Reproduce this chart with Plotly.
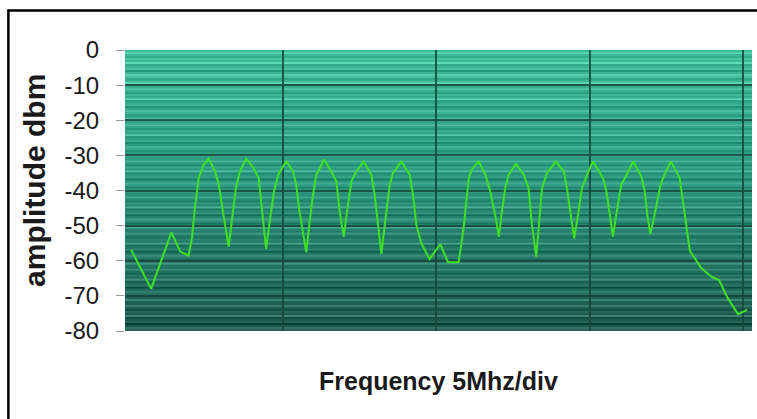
import plotly.graph_objects as go

# Frequency offset (MHz, 5 MHz per division) and amplitude (dBm)
freq_mhz = [
    0.05, 0.70, 1.36, 1.65, 1.92, 2.03, 2.14, 2.25, 2.41, 2.58,
    2.78, 2.91, 3.04, 3.23, 3.34, 3.47, 3.60, 3.80,
    4.04, 4.21, 4.32, 4.45, 4.58, 4.71, 4.87, 5.11,
    5.33, 5.43, 5.54, 5.76, 5.87, 5.98, 6.09, 6.34,
    6.58, 6.74, 6.85, 6.98, 7.12, 7.23, 7.39, 7.63,
    7.88, 7.99, 8.10, 8.21, 8.32, 8.48, 8.59, 8.86,
    9.13, 9.24, 9.35, 9.51, 9.78, 10.13, 10.38, 10.73,
    10.89, 11.06, 11.16, 11.38,
    11.60, 11.76, 11.92, 12.04, 12.14, 12.25, 12.36, 12.60,
    12.85, 13.01, 13.12, 13.26, 13.34, 13.45, 13.61, 13.90,
    14.16, 14.26, 14.37, 14.50, 14.64, 14.75, 14.92, 15.11,
    15.44, 15.55, 15.66, 15.76, 15.87, 16.03, 16.15, 16.42,
    16.69, 16.80, 16.88, 16.98, 17.12, 17.29, 17.39, 17.65,
    17.94, 18.10, 18.27, 18.43, 18.64, 18.97, 19.22, 19.51, 19.84, 20.14,
]
amplitude_dbm = [
    -56.9, -68.0, -51.9, -57.4, -58.5, -53.5, -44.0, -36.5, -32.7, -30.9,
    -34.5, -38.5, -46.0, -56.0, -48.0, -39.0, -34.5, -30.9,
    -33.6, -36.5, -46.0, -56.6, -48.0, -40.0, -35.0, -31.7,
    -34.6, -38.4, -46.0, -57.6, -48.8, -41.2, -35.5, -31.2,
    -34.6, -37.4, -46.0, -53.1, -44.0, -37.4, -34.6, -31.7,
    -35.5, -41.2, -49.8, -58.1, -49.8, -38.4, -35.0, -31.7,
    -35.5, -41.2, -49.8, -55.0, -59.5, -55.3, -60.4, -60.4,
    -50.7, -36.5, -34.0, -31.7,
    -35.5, -40.3, -46.9, -53.1, -46.0, -39.3, -35.5, -32.4,
    -35.5, -39.3, -49.8, -58.8, -50.7, -39.3, -35.0, -31.7,
    -34.6, -39.3, -46.0, -53.6, -46.0, -39.3, -35.5, -31.7,
    -36.5, -40.3, -46.9, -53.1, -46.9, -38.4, -36.5, -31.7,
    -36.0, -40.3, -46.9, -52.4, -46.9, -39.3, -36.5, -31.7,
    -36.5, -46.0, -57.2, -59.3, -62.1, -64.5, -65.5, -70.7, -75.2, -74.0,
]
y_ticks = [0, -10, -20, -30, -40, -50, -60, -70, -80]
x_grid = [5, 10, 15, 20]

# ---- background styling (decoration only) ----
stops = [(0.0, (62, 188, 152)), (0.45, (44, 152, 128)), (0.75, (33, 112, 96)), (1.0, (27, 86, 74))]
stripe_pattern = [0, 2, 0, -1, 1, 0, 3, -1, 0, 1, -2, 0, 2, 1, -1, 0, 3, 0]


def grad(t):
    for (t0, c0), (t1, c1) in zip(stops[:-1], stops[1:]):
        if t0 <= t <= t1:
            f = (t - t0) / (t1 - t0)
            return [c0[k] + (c1[k] - c0[k]) * f for k in range(3)]
    return list(stops[-1][1])


n_bands = 140
shapes = []
for i in range(n_bands):
    t = (i + 0.5) / n_bands
    c = grad(t)
    d = stripe_pattern[i % len(stripe_pattern)] * 12
    c = [max(0, min(255, int(v + d))) for v in c]
    shapes.append(dict(
        type="rect", xref="paper", yref="paper",
        x0=0, x1=1, y0=1 - i / n_bands, y1=1 - (i + 1) / n_bands,
        fillcolor=f"rgb({c[0]},{c[1]},{c[2]})", line=dict(width=0), layer="below",
    ))

# outer black frame (only top and left edges are inside the picture)
shapes.append(dict(
    type="rect", xref="paper", yref="paper",
    x0=-0.186, x1=1.03, y0=-0.4, y1=1.1406,
    line=dict(color="black", width=2.5), fillcolor="rgba(0,0,0,0)", layer="above",
))

fig = go.Figure()
fig.add_trace(go.Scatter(
    x=freq_mhz, y=amplitude_dbm, mode="lines",
    line=dict(color="#3fe023", width=2), hoverinfo="skip", showlegend=False,
))

fig.update_layout(
    width=757, height=419,
    margin=dict(l=125, r=5, t=50, b=88),
    paper_bgcolor="white", plot_bgcolor="rgb(45,148,124)",
    shapes=shapes,
    font=dict(family="Liberation Sans, Arial, sans-serif", color="#1a1a1a"),
    annotations=[
        dict(text="<b>Frequency 5Mhz/div</b>", xref="paper", yref="paper",
             x=0.5, y=-0.178, xanchor="center", yanchor="middle", showarrow=False,
             font=dict(size=25, color="#1a1a1a")),
        dict(text="<b>amplitude dbm</b>", xref="paper", yref="paper",
             x=-0.1435, y=0.534, xanchor="center", yanchor="middle", showarrow=False,
             textangle=-90, font=dict(size=30, color="#1a1a1a")),
    ],
)
fig.update_xaxes(
    range=[-0.153, 20.297], tickvals=x_grid, showticklabels=False, ticks="",
    showgrid=True, gridcolor="rgba(22,70,58,0.85)", gridwidth=2,
    zeroline=False, showline=False,
)
fig.update_yaxes(
    range=[-80, 0], tickvals=y_ticks, ticktext=[str(v) for v in y_ticks],
    ticks="outside", ticklen=8, tickcolor="#9a9a9a", tickwidth=1,
    ticklabelstandoff=12, tickfont=dict(size=24, color="#1a1a1a"),
    showgrid=True, gridcolor="rgba(22,70,58,0.85)", gridwidth=2,
    zeroline=False, showline=False,
)

fig.write_html(
    "out.html",
    config={"displayModeBar": False},
    post_script="document.body.style.margin='0';document.body.style.padding='0';",
)
